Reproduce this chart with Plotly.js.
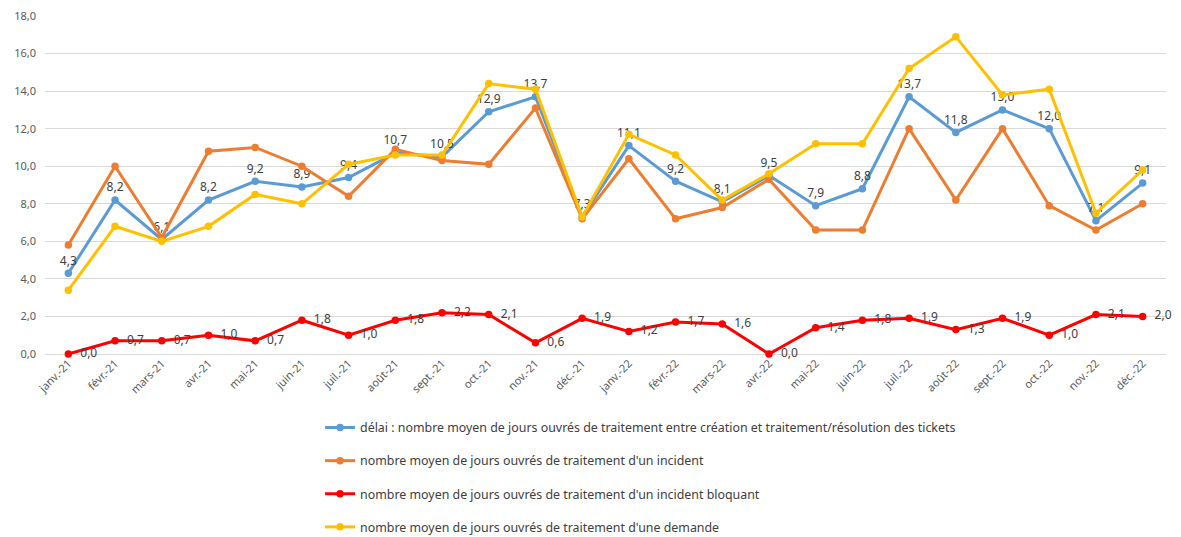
<!DOCTYPE html>
<html>
<head>
<meta charset="utf-8">
<script src="https://cdn.plot.ly/plotly-3.0.1.min.js"></script>
<style>html,body{margin:0;padding:0;background:#fff;}#chart{width:1181px;height:537px;}</style>
</head>
<body>
<div id="chart"></div>
<script>
const months = ["janv.-21","févr.-21","mars-21","avr.-21","mai-21","juin-21","juil.-21","août-21","sept.-21","oct.-21","nov.-21","déc.-21",
                "janv.-22","févr.-22","mars-22","avr.-22","mai-22","juin-22","juil.-22","août-22","sept.-22","oct.-22","nov.-22","déc.-22"];
const delai = [4.3,8.2,6.1,8.2,9.2,8.9,9.4,10.7,10.5,12.9,13.7,7.3,11.1,9.2,8.1,9.5,7.9,8.8,13.7,11.8,13.0,12.0,7.1,9.1];
const incident = [5.8,10.0,6.2,10.8,11.0,10.0,8.4,10.9,10.3,10.1,13.1,7.2,10.4,7.2,7.8,9.3,6.6,6.6,12.0,8.2,12.0,7.9,6.6,8.0];
const bloquant = [0.0,0.7,0.7,1.0,0.7,1.8,1.0,1.8,2.2,2.1,0.6,1.9,1.2,1.7,1.6,0.0,1.4,1.8,1.9,1.3,1.9,1.0,2.1,2.0];
const demande = [3.4,6.8,6.0,6.8,8.5,8.0,10.1,10.6,10.6,14.4,14.1,7.3,11.7,10.6,8.2,9.6,11.2,11.2,15.2,16.9,13.8,14.1,7.5,9.8];
const names = [
  "délai : nombre moyen de jours ouvrés de traitement entre création et traitement/résolution des tickets",
  "nombre moyen de jours ouvrés de traitement d'un incident",
  "nombre moyen de jours ouvrés de traitement d'un incident bloquant",
  "nombre moyen de jours ouvrés de traitement d'une demande"
];
const colors = ["#5B9BD5","#ED7D31","#FF0000","#FFC000"];
const labelFont = {family:"Noto Sans, Open Sans, sans-serif", size:12, color:"#404040"};

function tr(y, i, extra) {
  return Object.assign({
    x: months, y: y, name: names[i], type: "scatter", mode: "lines+markers",
    line: {color: colors[i], width: 3},
    marker: {color: colors[i], size: 7.5},
    legendgroup: "g" + i,
    cliponaxis: false,
    hoverinfo: "skip"
  }, extra || {});
}
const data = [
  tr(delai, 0, {mode:"lines+markers+text", texttemplate:"%{y:.1f}", textposition:"top center", textfont: labelFont}),
  tr(incident, 1),
  tr(bloquant, 2, {mode:"lines+markers+text", texttemplate:"  %{y:.1f}", textposition:"middle right", textfont: labelFont}),
  tr(demande, 3)
];
const layout = {
  width: 1181, height: 537,
  separators: ", ",
  margin: {l: 45, r: 15, t: 16, b: 183, autoexpand: false},
  paper_bgcolor: "#fff", plot_bgcolor: "#fff",
  font: {family: "Noto Sans, Open Sans, sans-serif", size: 11, color: "#595959"},
  showlegend: true,
  legend: {orientation: "v", xref: "container", x: 0.271, xanchor: "left",
           yref: "container", y: 0.231, yanchor: "top",
           tracegroupgap: 14, font: {size: 12.4, color: "#404040"}, bgcolor: "rgba(0,0,0,0)"},
  xaxis: {type: "category", tickangle: -45, showgrid: false, showline: false, ticks: "",
          tickfont: {size: 11, color: "#595959"}, zeroline: false, range: [-0.5, 23.5], automargin: false},
  yaxis: {range: [0, 18], dtick: 2, tickformat: ".1f", gridcolor: "#D9D9D9", gridwidth: 1,
          zeroline: true, zerolinecolor: "#D9D9D9", zerolinewidth: 1, showline: false, ticks: "",
          tickfont: {size: 11, color: "#595959"}, ticklabelstandoff: 8, automargin: false}
};
Plotly.newPlot("chart", data, layout, {displayModeBar: false, staticPlot: true});
</script>
</body>
</html>
